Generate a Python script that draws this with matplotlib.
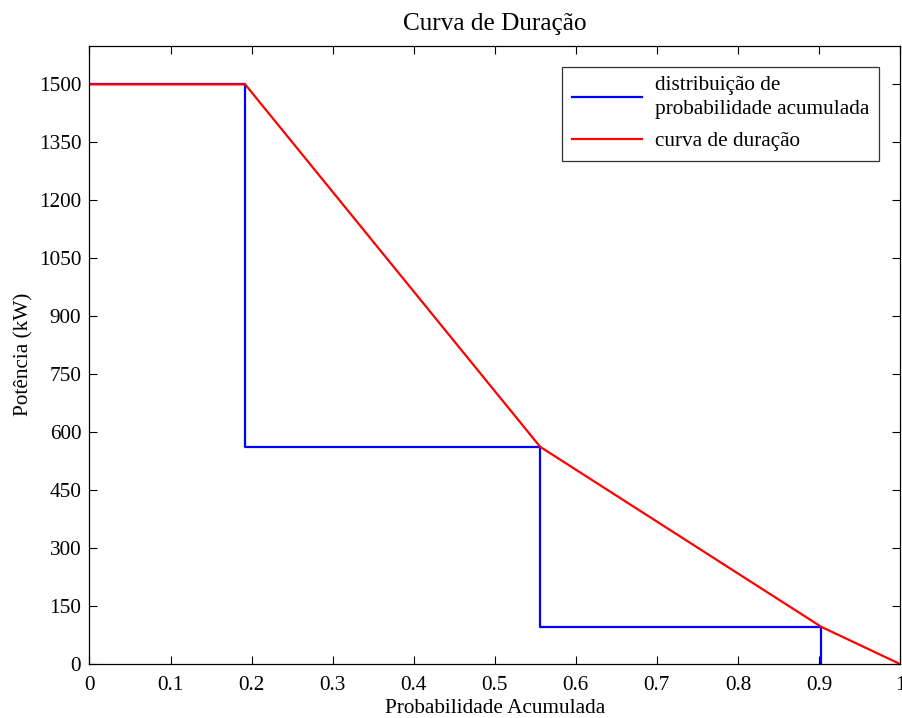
import matplotlib
matplotlib.use("Agg")
import matplotlib.pyplot as plt

# Cumulative probability steps and power levels
prob_steps = [0.0, 0.192, 0.556, 0.903, 1.0]
power_levels = [1500, 562, 96, 0]

# Step-shaped cumulative distribution
dist_x = [0.0, 0.192, 0.192, 0.556, 0.556, 0.903, 0.903]
dist_y = [1500, 1500, 562, 562, 96, 96, 0]

# Duration curve (piecewise linear)
dur_x = [0.0, 0.192, 0.556, 0.903, 1.0]
dur_y = [1500, 1500, 562, 96, 0]

xticks = [0, 0.1, 0.2, 0.3, 0.4, 0.5, 0.6, 0.7, 0.8, 0.9, 1]
xticklabels = ["0", "0.1", "0.2", "0.3", "0.4", "0.5", "0.6", "0.7", "0.8", "0.9", "1"]
yticks = [0, 150, 300, 450, 600, 750, 900, 1050, 1200, 1350, 1500]

plt.rcParams['font.family'] = ['Liberation Serif', 'DejaVu Serif']
fs = 15.3

fig = plt.figure(figsize=(9.02, 7.18), dpi=100)
ax = fig.add_axes([0.0992, 0.0752, 0.8986, 0.8612])

ax.plot(dist_x, dist_y, color="#0000ff", lw=1.6,
        label="distribuição de\nprobabilidade acumulada")
ax.plot(dur_x, dur_y, color="#ff0000", lw=1.6, label="curva de duração")

ax.set_xlim(0, 1)
ax.set_ylim(0, 1600)
ax.set_xticks(xticks)
ax.set_xticklabels(xticklabels)
ax.set_yticks(yticks)
ax.tick_params(direction="in", top=True, right=True, length=6, width=0.8,
               labelsize=fs)
ax.tick_params(axis="y", pad=6)
ax.tick_params(axis="x", pad=8.5)
for s in ax.spines.values():
    s.set_linewidth(0.9)

ax.set_title("Curva de Duração", fontsize=18.2, pad=11)
ax.set_xlabel("Probabilidade Acumulada", fontsize=fs, labelpad=3)
ax.set_ylabel("Potência (kW)", fontsize=fs, labelpad=4)

leg = ax.legend(loc="upper right", fontsize=fs, frameon=True, fancybox=False,
                edgecolor="black", handlelength=3.3, borderaxespad=1.0,
                labelspacing=0.6, handletextpad=0.6, borderpad=0.45)
leg.get_frame().set_linewidth(0.9)
for t in leg.get_texts():
    t.set_linespacing(1.3)

fig.savefig("out.png", dpi=100)
